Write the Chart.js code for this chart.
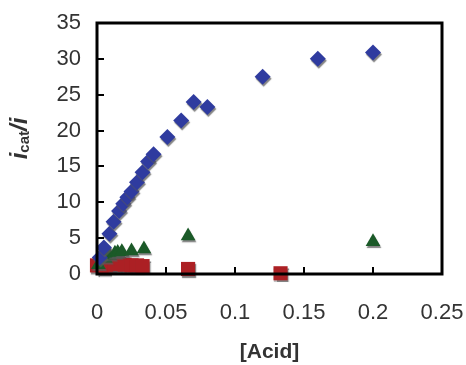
<!DOCTYPE html>
<html><head><meta charset="utf-8">
<script src="https://cdn.jsdelivr.net/npm/chart.js@4"></script>
<style>html,body{margin:0;padding:0;background:#fff}#wrap{width:466px;height:365px}</style>
</head><body><div id="wrap"><canvas id="c" width="466" height="365"></canvas></div>
<script>
const blueX = [0.002,0.005,0.009,0.012,0.016,0.019,0.022,0.025,0.029,0.033,0.037,0.041,0.051,0.061,0.070,0.080,0.120,0.160,0.200];
const blueY = [2.3,3.7,5.6,7.3,8.8,9.8,10.7,11.5,12.8,14.2,15.7,16.7,19.1,21.4,24.0,23.3,27.5,30.0,30.9];
const greenX = [0.001,0.006,0.009,0.013,0.015,0.018,0.025,0.034,0.066,0.200];
const greenY = [1.3,2.2,2.6,2.9,3.0,3.1,3.2,3.5,5.3,4.5];
const redX = [0.000,0.005,0.009,0.013,0.016,0.020,0.025,0.029,0.033,0.066,0.133];
const redY = [1.2,0.9,1.1,1.3,1.4,1.3,1.2,1.2,1.1,0.7,0.1];
const xTicks = [0,0.05,0.1,0.15,0.2,0.25];
const yTicks = [0,5,10,15,20,25,30,35];
const xTitle = '[Acid]';
const yTitleParts = ['i','cat','/','i'];

const pts = (xs, ys) => xs.map((x, i) => ({x, y: ys[i]}));
const FONT = '"Liberation Sans", Arial, sans-serif';

const shadow = {
  id: 'shadow',
  beforeDatasetsDraw(chart) {
    const ctx = chart.ctx; ctx.save();
    ctx.shadowColor = 'rgba(90,90,90,0.75)'; ctx.shadowOffsetX = 1; ctx.shadowOffsetY = 2; ctx.shadowBlur = 1;
  },
  afterDatasetsDraw(chart) { chart.ctx.restore(); }
};

const frame = {
  id: 'frame',
  afterDraw(chart) {
    const ctx = chart.ctx, a = chart.chartArea, xs = chart.scales.x, ys = chart.scales.y;
    ctx.save();
    ctx.strokeStyle = '#000'; ctx.lineWidth = 3;
    ctx.strokeRect(a.left, a.top, a.right - a.left, a.bottom - a.top);
    ctx.lineWidth = 2;
    ctx.beginPath();
    yTicks.forEach(v => { if (v > 0 && v < 35) { const p = Math.round(ys.getPixelForValue(v)); ctx.moveTo(a.left, p); ctx.lineTo(a.left + 7, p); } });
    xTicks.forEach(v => { if (v > 0 && v < 0.25) { const p = Math.round(xs.getPixelForValue(v)); ctx.moveTo(p, a.bottom); ctx.lineTo(p, a.bottom - 7); } });
    ctx.stroke();
    // y title with subscript
    ctx.fillStyle = '#333';
    ctx.translate(20, (a.top + a.bottom) / 2 - 10);
    ctx.rotate(-Math.PI / 2);
    ctx.textBaseline = 'middle';
    const big = 'italic bold 24px ' + FONT;
    const small = 'bold 15px ' + FONT;
    const segs = [[yTitleParts[0], big, 0], [yTitleParts[1], small, 5], [yTitleParts[2], big, 0], [yTitleParts[3], big, 0]];
    let w = 0; segs.forEach(s => { ctx.font = s[1]; w += ctx.measureText(s[0]).width; });
    let x = -w / 2;
    segs.forEach(s => { ctx.font = s[1]; ctx.fillText(s[0], x, s[2]); x += ctx.measureText(s[0]).width; });
    ctx.restore();
  }
};

new Chart(document.getElementById('c'), {
  type: 'scatter',
  data: { datasets: [
    { data: pts(blueX, blueY), clip: false, pointStyle: 'rectRot', pointRadius: 8, backgroundColor: '#2F3B9F', borderColor: '#2F3B9F', borderWidth: 0 },
    { data: pts(greenX, greenY), clip: false, pointStyle: 'triangle', pointRadius: 8.5, backgroundColor: '#1B5A28', borderColor: '#1B5A28', borderWidth: 0 },
    { data: pts(redX, redY), clip: false, pointStyle: 'rect', pointRadius: 10, backgroundColor: '#AC2024', borderColor: '#AC2024', borderWidth: 0 }
  ]},
  options: {
    responsive: false, animation: false, devicePixelRatio: 1,
    layout: { padding: { left: 0, right: 24, top: 23, bottom: 0 } },
    plugins: { legend: { display: false }, tooltip: { enabled: false } },
    scales: {
      x: { type: 'linear', min: 0, max: 0.25,
        afterBuildTicks: s => { s.ticks = xTicks.map(v => ({value: v})); },
        afterFit: s => { s.height = 91; s.paddingLeft = 0; s.paddingRight = 0; },
        grid: { display: true, drawOnChartArea: false, drawTicks: false },
        border: { display: false },
        ticks: { padding: 26, color: '#333', font: { size: 22, family: FONT }, maxRotation: 0, autoSkip: false, callback: v => String(v) },
        title: { display: true, text: xTitle, color: '#333', font: { size: 21, weight: 'bold', family: FONT }, padding: { top: 6, bottom: 0 } }
      },
      y: { type: 'linear', min: 0, max: 35,
        afterBuildTicks: s => { s.ticks = yTicks.map(v => ({value: v})); },
        afterFit: s => { s.width = 97; s.paddingTop = 0; s.paddingBottom = 0; },
        grid: { display: true, drawOnChartArea: false, drawTicks: false },
        border: { display: false },
        ticks: { padding: 16, color: '#333', font: { size: 22, family: FONT }, autoSkip: false }
      }
    }
  },
  plugins: [shadow, frame]
});
</script></body></html>
